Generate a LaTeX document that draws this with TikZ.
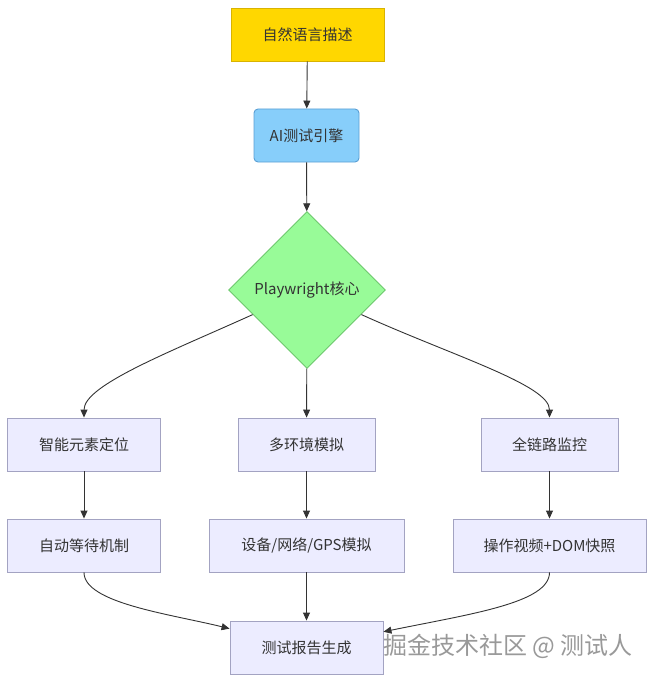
\documentclass[tikz,border=0pt]{standalone}
\usepackage{fontspec}
\setmainfont{Noto Sans CJK SC}
\usepackage{xcolor}
\usetikzlibrary{shapes.geometric,arrows.meta}

\definecolor{inktext}{HTML}{333333}
\definecolor{goldfill}{HTML}{FFD700}
\definecolor{goldline}{HTML}{D9B300}
\definecolor{skyfill}{HTML}{87CEFA}
\definecolor{skyline}{HTML}{5A9FD4}
\definecolor{mintfill}{HTML}{98FB98}
\definecolor{mintline}{HTML}{6FC86F}
\definecolor{lavfill}{HTML}{ECECFF}
\definecolor{lavline}{HTML}{A3A3C2}

\tikzset{
	plainbox/.style={rectangle, draw=lavline, fill=lavfill, line width=0.9pt, text=inktext,
		minimum height=53pt, inner sep=0pt, font=\fontsize{15}{18}\selectfont},
	flow/.style={draw=inktext, line width=0.9pt, -{Triangle[length=8pt,width=7pt]}}
}

\begin{document}
\begin{tikzpicture}[x=1pt, y=-1pt]
	\useasboundingbox (0,0) rectangle (653,682);

	% Define the nodes with specific positions
	\node[plainbox, draw=goldline, fill=goldfill, minimum width=153pt] (nl) at (307.5, 34.5) {自然语言描述};
	\node[plainbox, draw=skyline, fill=skyfill, rounded corners=4pt, minimum width=105pt] (ai) at (306.5, 135.5) {AI测试引擎};
	\node[diamond, draw=mintline, fill=mintfill, line width=0.9pt, text=inktext, inner sep=0pt,
		minimum width=157pt, minimum height=157pt, font=\fontsize{15}{18}\selectfont] (core) at (307, 290) {Playwright核心};

	\node[plainbox, minimum width=153pt] (loc) at (84, 444.5) {智能元素定位};
	\node[plainbox, minimum width=137pt] (env) at (306.5, 444.5) {多环境模拟};
	\node[plainbox, minimum width=137pt] (mon) at (549.5, 444.5) {全链路监控};

	\node[plainbox, minimum width=153pt] (wait) at (84, 545.5) {自动等待机制};
	\node[plainbox, minimum width=195pt] (dev) at (306.5, 545.5) {设备/网络/GPS模拟};
	\node[plainbox, minimum width=193pt] (rec) at (549.5, 545.5) {操作视频+DOM快照};

	\node[plainbox, minimum width=153pt] (rep) at (306.5, 647.5) {测试报告生成};

	\node[text=black!40, font=\fontsize{24}{27}\selectfont, anchor=west, inner sep=0pt] (mark) at (383, 646) {掘金技术社区 @ 测试人};

	% Draw the edges between nodes
	\draw[flow] (nl) -- (ai);
	\draw[flow] (ai) -- (core);
	\draw[flow] (core) .. controls (170, 352) and (84, 385) .. (loc);
	\draw[flow] (core) -- (env);
	\draw[flow] (core) .. controls (453, 356) and (549.5, 385) .. (mon);
	\draw[flow] (loc) -- (wait);
	\draw[flow] (env) -- (dev);
	\draw[flow] (mon) -- (rec);
	\draw[flow] (wait) .. controls (84, 603) and (170, 614) .. (rep);
	\draw[flow] (dev) -- (rep);
	\draw[flow] (rec) .. controls (549.5, 603) and (470, 614) .. (rep);
\end{tikzpicture}
\end{document}
